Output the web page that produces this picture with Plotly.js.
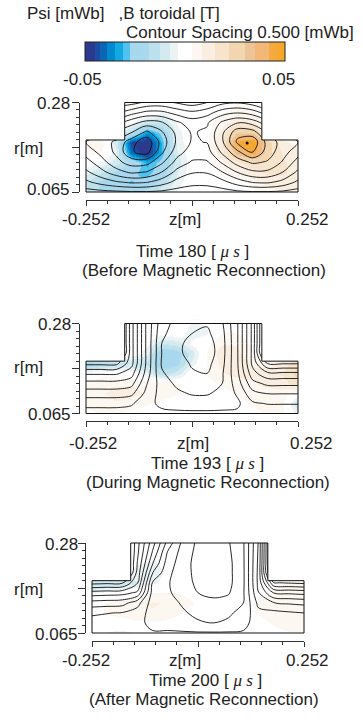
<!DOCTYPE html>
<html><head><meta charset="utf-8">
<script src="https://cdn.plot.ly/plotly-3.0.1.min.js"></script>
<style>html,body{margin:0;padding:0;background:#fff}#chart{width:363px;height:722px}</style>
</head><body><div id="chart"></div>
<script>
// ---------------- data ----------------
const Z_GRID = [-0.252,-0.216,-0.18,-0.144,-0.108,-0.072,-0.036,0,0.036,0.072,0.108,0.144,0.18,0.216,0.252];
const R_GRID = [0.065,0.089,0.113,0.137,0.161,0.185,0.209,0.232,0.256,0.28];

// Psi [mWb], rows = R_GRID (bottom to top), cols = Z_GRID
const PSI_T180 = [
 [0.3,0.35,0.4,0.45,0.45,0.4,0.3,0.25,0.25,0.3,0.4,0.45,0.45,0.4,0.3],
 [0.9,1.2,1.45,1.6,1.55,1.25,0.85,0.65,0.65,0.85,1.25,1.55,1.6,1.35,0.9],
 [1.4,1.85,2.3,2.6,2.48,2.0,1.35,1.05,1.05,1.49,2.03,2.4,2.4,2.0,1.4],
 [1.8,2.3,2.85,3.24,3.2,2.61,1.83,1.45,1.45,2.09,2.73,3.1,2.95,2.45,1.8],
 [2.2,2.65,3.1,3.95,4.2,3.1,2.22,1.75,1.8,2.6,3.38,4.05,3.25,2.7,2.2],
 [2.5,2.75,3.1,3.8,4.35,3.3,2.42,1.95,2.02,2.92,4.1,4.35,3.3,2.8,2.5],
 [2.0,2.3,2.6,2.95,3.6,3.05,2.36,1.95,2.09,2.9,3.8,3.7,2.9,2.4,2.0],
 [1.2,1.5,1.8,2.31,2.67,2.55,2.08,1.75,1.93,2.59,2.95,2.78,2.2,1.6,1.2],
 [0.4,0.6,0.9,1.3,1.63,1.62,1.31,1.1,1.29,1.77,1.95,1.75,1.25,0.7,0.4],
 [0,0,0.2,0.3,0.6,0.65,0.45,0.25,0.5,0.85,0.95,0.75,0.3,0.1,0]
];
const PSI_T193 = [
 [3.72,3.72,3.72,3.75,3.9,3.9,3.9,3.9,3.9,3.9,3.9,3.9,3.84,3.84,3.84],
 [3.34,3.34,3.34,3.43,3.86,4.1,4.2,4.25,4.25,4.2,4.1,3.58,3.47,3.47,3.47],
 [2.75,2.75,2.75,2.87,3.65,4.2,4.4,4.55,4.55,4.35,3.93,3.16,2.98,2.98,2.98],
 [2.17,2.17,2.17,2.32,3.46,4.25,4.6,4.75,4.75,4.5,3.74,2.67,2.37,2.37,2.37],
 [1.42,1.42,1.42,1.77,3.22,4.45,4.7,4.95,5.0,4.55,3.61,2.19,1.6,1.6,1.6],
 [0.34,0.34,0.34,1.32,3.1,4.55,4.8,5.05,5.15,4.65,3.55,1.87,0.44,0.44,0.44],
 [-1,-1,-1,1.3,3.1,4.5,4.87,5.2,5.3,4.7,3.54,1.85,-1,-1,-1],
 [-1,-1,-1,1.3,3.1,4.5,4.85,5.2,5.25,4.7,3.54,1.85,-1,-1,-1],
 [-1,-1,-1,1.3,3.1,4.4,4.72,5.0,5.1,4.65,3.54,1.85,-1,-1,-1],
 [-1,-1,-1,1.3,3.1,4.3,4.65,4.9,4.95,4.55,3.54,1.85,-1,-1,-1]
];
const PSI_T200 = [
 [3.85,3.87,3.9,3.88,3.95,3.95,3.95,3.95,3.95,3.95,3.95,3.85,3.9,3.87,3.85],
 [3.67,3.72,3.77,3.85,4.15,4.15,4.25,4.45,4.5,4.4,4.15,3.75,3.82,3.74,3.67],
 [3.43,3.48,3.53,3.75,4.2,4.25,4.45,4.6,4.65,4.6,4.3,3.65,3.65,3.57,3.5],
 [2.69,2.74,2.79,3.3,4.25,4.35,4.55,4.75,4.85,4.8,4.5,3.35,3.01,2.93,2.86],
 [1.71,1.76,1.81,2.1,4.2,4.45,4.65,5.0,5.15,5.05,4.55,3.02,1.98,1.9,1.83],
 [0.33,0.38,0.43,1.45,4.05,4.45,4.8,5.1,5.25,5.15,4.58,2.85,0.53,0.45,0.38],
 [-1,-1,-1,1.17,3.48,4.37,4.81,5.15,5.3,5.15,4.58,2.84,-1,-1,-1],
 [-1,-1,-1,1.03,2.95,4.25,4.77,5.2,5.3,5.15,4.57,2.87,-1,-1,-1],
 [-1,-1,-1,0.9,2.57,4.07,4.72,5.15,5.25,5.1,4.56,2.91,-1,-1,-1],
 [-1,-1,-1,0.84,2.28,3.69,4.64,5.1,5.2,5.05,4.55,2.95,-1,-1,-1]
];

// B toroidal [T], same grid
const BT_T180 = [
 [-0.012,-0.018,-0.02,-0.02,-0.015,-0.008,-0.003,0,0,-0.004,-0.006,0.002,0.006,0.008,0.006],
 [-0.012,-0.02,-0.025,-0.028,-0.025,-0.015,-0.005,0,0,-0.002,0,0.006,0.01,0.012,0.01],
 [-0.006,-0.012,-0.02,-0.026,-0.03,-0.022,-0.008,0,0.002,0.004,0.008,0.012,0.016,0.016,0.012],
 [0,-0.004,-0.01,-0.02,-0.032,-0.025,-0.01,0,0.002,0.006,0.014,0.02,0.02,0.016,0.012],
 [0.006,0.004,-0.006,-0.04,-0.05,-0.03,-0.008,0,0.003,0.012,0.035,0.045,0.025,0.014,0.01],
 [0.008,0.006,-0.01,-0.045,-0.05,-0.03,-0.006,0,0.003,0.015,0.045,0.05,0.025,0.01,0.006],
 [0,0,0,-0.015,-0.035,-0.025,-0.005,0,0.002,0.01,0.03,0.03,0.006,0,0],
 [0,0,0,-0.002,-0.012,-0.012,-0.003,0,0.002,0.006,0.012,0.01,0,0,0],
 [0,0,0,0.004,0.002,-0.004,0,0,0,0.003,0.006,0.004,0,0,0],
 [0,0,0,0.004,0.002,0,0,0,0,0,0.003,0.002,0,0,0]
];
const BT_T193 = [
 [0.002,0.004,0.004,0.002,0,0,0,0,0,0,0,0.002,0.004,0.004,-0.006],
 [0.004,0.006,0.008,0.006,0.004,0.002,0,0,0,0,0.002,0.004,0.006,0.004,-0.012],
 [0.006,0.008,0.01,0.01,0.008,0.006,0.004,0.002,0,0.002,0.004,0.006,0.006,0.006,0],
 [0.004,0.006,0.008,0.008,0.006,0.006,0.004,0.002,0.002,0.004,0.006,0.008,0.01,0.012,0.02],
 [0,0.002,0.002,0,-0.006,-0.015,-0.01,0.002,0.004,0.008,0.01,0.01,0.012,0.016,0.025],
 [-0.022,-0.018,-0.014,-0.012,-0.014,-0.024,-0.02,-0.006,0.004,0.01,0.012,0.008,0.006,0.01,0.022],
 [0,0,0,0,-0.006,-0.026,-0.022,-0.01,0.004,0.012,0.01,0.004,0,0,0],
 [0,0,0,0,-0.002,-0.012,-0.01,-0.002,0.002,0.008,0.008,0.002,0,0,0],
 [0,0,0,0,0,-0.002,0,-0.006,-0.004,0.004,0.004,0,0,0,0],
 [0,0,0,0,0,0,0,-0.004,-0.003,0,0,0,0,0,0]
];
const BT_T200 = [
 [0,-0.004,-0.005,-0.003,0,0,0,0,0,0,0,0,0.002,0.003,0.003],
 [0,0,0,0.002,0.003,0.002,0,0,0,0,0,0.002,0.004,0.006,0.006],
 [0.002,0.004,0.006,0.008,0.008,0.006,0.003,0.002,0,0,0.002,0.004,0.006,0.008,0.008],
 [0.002,0.004,0.006,0.008,0.009,0.008,0.005,0.003,0.002,0.002,0.003,0.004,0.006,0.008,0.008],
 [-0.004,-0.002,0,0.002,0.004,0.004,0.003,0.002,0,0,0,0.002,0.004,0.006,0.006],
 [-0.014,-0.012,-0.01,-0.008,-0.004,-0.002,0,0,0,0,0,0,0.002,0.004,0.004],
 [0,0,0,-0.006,-0.006,-0.002,0,0,0,0,0,0.002,0,0,0],
 [0,0,0,-0.003,-0.004,-0.002,0,0,0,0,0,0.002,0,0,0],
 [0,0,0,0,-0.002,0,0,0,0,0,0,0.002,0,0,0],
 [0,0,0,0,0,0,0,0,-0.002,-0.002,0,0,0,0,0]
];

// vessel cross-section (z, r) [m]
const VESSEL_Z = [-0.252, 0.252, 0.252, 0.166, 0.166, -0.16, -0.16, -0.252, -0.252];
const VESSEL_R = [0.065, 0.065, 0.19, 0.19, 0.28, 0.28, 0.19, 0.19, 0.065];
const O_POINT_T180_Z = [0.131];
const O_POINT_T180_R = [0.183];

const TIMES = [180, 193, 200];
const PHASES = ['(Before Magnetic Reconnection)', '(During Magnetic Reconnection)', '(After Magnetic Reconnection)'];
const X_TICK_VALS = [-0.252, 0, 0.252];
const X_TICK_LABELS = ['-0.252', 'z[m]', '0.252'];
const Y_TICK_VALS = [0.065, 0.1725, 0.28];
const Y_TICK_LABELS = ['0.065', 'r[m]', '0.28'];
const BT_RANGE = [-0.05, 0.05];
const BT_LABELS = ['-0.05', '0.05'];
const PSI_LEVELS = {start: 0.5, end: 6, size: 0.5};

// ---------------- style / geometry ----------------
const W = 363, H = 722;
const FONT = 'Liberation Sans, Arial, Helvetica, sans-serif';
const INK = '#222';
const CSCALE = [
 [0,'#2b3a8e'],[0.05,'#2b3a8e'],[0.05,'#1c4da2'],[0.075,'#1c4da2'],[0.075,'#0b66b3'],[0.11,'#0b66b3'],
 [0.11,'#0089cc'],[0.15,'#0089cc'],[0.15,'#12a9e3'],[0.19,'#12a9e3'],[0.19,'#4fc2ef'],[0.225,'#4fc2ef'],
 [0.225,'#a6d7ee'],[0.32,'#aad9ee'],[0.32,'#bde1ec'],[0.375,'#bde1ec'],[0.375,'#d3eaf0'],[0.425,'#d3eaf0'],
 [0.425,'#ebf3f5'],[0.465,'#ebf3f5'],[0.465,'#ffffff'],[0.535,'#ffffff'],[0.535,'#fcf7f0'],[0.585,'#fcf7f0'],
 [0.585,'#f9eee0'],[0.65,'#f9eee0'],[0.65,'#f6e4cc'],[0.72,'#f6e4cc'],[0.72,'#f2d6b0'],[0.8,'#f2d6b0'],
 [0.8,'#edc398'],[0.85,'#edc398'],[0.85,'#f1b877'],[0.92,'#f1b877'],[0.92,'#f5ab45'],[1,'#f6a623']
];

const PANELS = [
 {psi: PSI_T180, bt: BT_T180, xL: 86, xR: 298, yT: 102.5, yB: 192, axY: 200, axX: 79,
  ylabX: 71.7, ylab: [190, 148, 103.3], xlab: [86, 185, 307], xlabY: 219, t1: [192, 251], t2: [204, 270.5]},
 {psi: PSI_T193, bt: BT_T193, xL: 86, xR: 298, yT: 323.5, yB: 413.5, axY: 421, axX: 79,
  ylabX: 72.7, ylab: [414.5, 367, 324.5], xlab: [92.5, 193, 311.7], xlabY: 443.5, t1: [207, 463], t2: [208, 482.5]},
 {psi: PSI_T200, bt: BT_T200, xL: 92, xR: 304, yT: 543, yB: 633, axY: 641, axX: 85,
  ylabX: 80, ylab: [634.5, 589, 544.5], xlab: [86, 185, 307], xlabY: 660.5, t1: [205, 680], t2: [204, 699.5]}
];
const fx = v => v / W;
const fy = v => 1 - v / H;

const zMin = Math.min(...VESSEL_Z), zMax = Math.max(...VESSEL_Z);
const rMin = Math.min(...VESSEL_R), rMax = Math.max(...VESSEL_R);
const rStep = VESSEL_R[2];
const uzMin = VESSEL_Z[5], uzMax = VESSEL_Z[3];

function minorVals(lo, hi, n) { const a = []; for (let k = 0; k <= n; k++) a.push(lo + (hi - lo) * k / n); return a; }

const data = [], layout = {
 width: W, height: H, margin: {l: 0, r: 0, t: 0, b: 0},
 paper_bgcolor: '#fff', plot_bgcolor: 'rgba(0,0,0,0)', showlegend: false, hovermode: false,
 font: {family: FONT, size: 17, color: INK}, annotations: []
};
const PAD = 4;
function addLabel(x, y, text, xanchor) {
 layout.annotations.push({xref: 'paper', yref: 'paper', x: fx(x), y: fy(y), text: text, xanchor: xanchor, yanchor: 'middle', showarrow: false, font: {size: 17}});
}

PANELS.forEach((p, i) => {
 const dx = 'x' + (2 * i + 1), dy = 'y' + (2 * i + 1), ax = 'x' + (2 * i + 2), ay = 'y' + (2 * i + 2);
 const sx = (p.xR - p.xL) / (X_TICK_VALS[2] - X_TICK_VALS[0]);
 const sy = (p.yB - p.yT) / (Y_TICK_VALS[2] - Y_TICK_VALS[0]);
 const xr = [X_TICK_VALS[0] - PAD / sx, X_TICK_VALS[2] + PAD / sx];
 const yr = [Y_TICK_VALS[0] - PAD / sy, Y_TICK_VALS[2] + PAD / sy];
 const hidden = {showline: false, showticklabels: false, ticks: '', showgrid: false, zeroline: false, fixedrange: true};
 layout['xaxis' + (2 * i + 1)] = Object.assign({domain: [fx(p.xL - PAD), fx(p.xR + PAD)], range: xr, anchor: dy}, hidden);
 layout['yaxis' + (2 * i + 1)] = Object.assign({domain: [fy(p.yB + PAD), fy(p.yT - PAD)], range: yr, anchor: dx}, hidden);
 const axStyle = {showline: true, linecolor: '#333', linewidth: 1, ticks: 'outside', tickcolor: '#333', tickwidth: 1,
  showticklabels: false, showgrid: false, zeroline: false, fixedrange: true, tickmode: 'array', anchor: 'free'};
 layout['xaxis' + (2 * i + 2)] = Object.assign({}, axStyle, {domain: [fx(p.xL), fx(p.xR)], range: [X_TICK_VALS[0], X_TICK_VALS[2]],
  position: fy(p.axY), tickvals: X_TICK_VALS, ticklen: 5,
  minor: {tickmode: 'array', tickvals: minorVals(X_TICK_VALS[0], X_TICK_VALS[2], 10), ticklen: 3, ticks: 'outside', tickcolor: '#333', showgrid: false}});
 layout['yaxis' + (2 * i + 2)] = Object.assign({}, axStyle, {domain: [fy(p.yB), fy(p.yT)], range: [Y_TICK_VALS[0], Y_TICK_VALS[2]],
  position: fx(p.axX), side: 'left', tickvals: Y_TICK_VALS, ticklen: 7,
  minor: {tickmode: 'array', tickvals: minorVals(Y_TICK_VALS[0], Y_TICK_VALS[2], 12), ticklen: 3, ticks: 'outside', tickcolor: '#333', showgrid: false}});

 const hm = {type: 'heatmap', x: Z_GRID, y: R_GRID, z: p.bt, xaxis: dx, yaxis: dy, zmin: BT_RANGE[0], zmax: BT_RANGE[1],
  colorscale: CSCALE, zsmooth: 'best', showscale: i === 0, hoverinfo: 'skip'};
 if (i === 0) {
  hm.colorbar = {orientation: 'h', x: fx(185), xanchor: 'center', y: fy(51.5), yanchor: 'middle', len: 200, lenmode: 'pixels',
   thickness: 19, thicknessmode: 'pixels', outlinewidth: 1, outlinecolor: '#222', ticks: '', showticklabels: false,
   xpad: 0, ypad: 0, borderwidth: 0};
 }
 data.push(hm);
 data.push({type: 'contour', x: Z_GRID, y: R_GRID, z: p.psi, xaxis: dx, yaxis: dy, showscale: false, hoverinfo: 'skip',
  contours: Object.assign({coloring: 'none'}, PSI_LEVELS), line: {color: '#111', width: 0.9, smoothing: 1}});
 const rects = [[xr[0], zMin, yr[0], yr[1]], [zMax, xr[1], yr[0], yr[1]], [xr[0], xr[1], yr[0], rMin], [xr[0], xr[1], rMax, yr[1]],
  [xr[0], uzMin, rStep, yr[1]], [uzMax, xr[1], rStep, yr[1]]];
 const mx = [], my = [];
 rects.forEach(q => { mx.push(q[0], q[1], q[1], q[0], q[0], null); my.push(q[2], q[2], q[3], q[3], q[2], null); });
 data.push({type: 'scatter', mode: 'lines', x: mx, y: my, xaxis: dx, yaxis: dy, fill: 'toself', fillcolor: '#fff',
  line: {width: 0, color: '#fff'}, hoverinfo: 'skip'});
 data.push({type: 'scatter', mode: 'lines', x: VESSEL_Z, y: VESSEL_R, xaxis: dx, yaxis: dy, line: {color: '#111', width: 1}, hoverinfo: 'skip'});
 if (i === 0) data.push({type: 'scatter', mode: 'markers', x: O_POINT_T180_Z, y: O_POINT_T180_R, xaxis: dx, yaxis: dy,
  marker: {color: '#000', size: 3}, hoverinfo: 'skip'});
 data.push({type: 'scatter', mode: 'markers', x: [], y: [], xaxis: ax, yaxis: ay, hoverinfo: 'skip'});

 Y_TICK_LABELS.forEach((t, k) => addLabel(k === 1 ? 45 : p.ylabX, p.ylab[k], t, 'right'));
 X_TICK_LABELS.forEach((t, k) => addLabel(p.xlab[k], p.xlabY, t, 'center'));
 addLabel(p.t1[0], p.t1[1], 'Time ' + TIMES[i] + ' [ <i><span style="font-family:Liberation Serif">\u03bc s</span></i> ]', 'center');
 addLabel(p.t2[0], p.t2[1], PHASES[i], 'center');
});

addLabel(25, 13, 'Psi [mWb]\u00a0\u00a0\u00a0,B toroidal [T]', 'left');
addLabel(124, 32.5, 'Contour Spacing 0.500 [mWb]', 'left');
addLabel(82, 79.5, BT_LABELS[0], 'center');
addLabel(278.5, 79.5, BT_LABELS[1], 'center');

Plotly.newPlot('chart', data, layout, {staticPlot: true, displayModeBar: false});
</script></body></html>
